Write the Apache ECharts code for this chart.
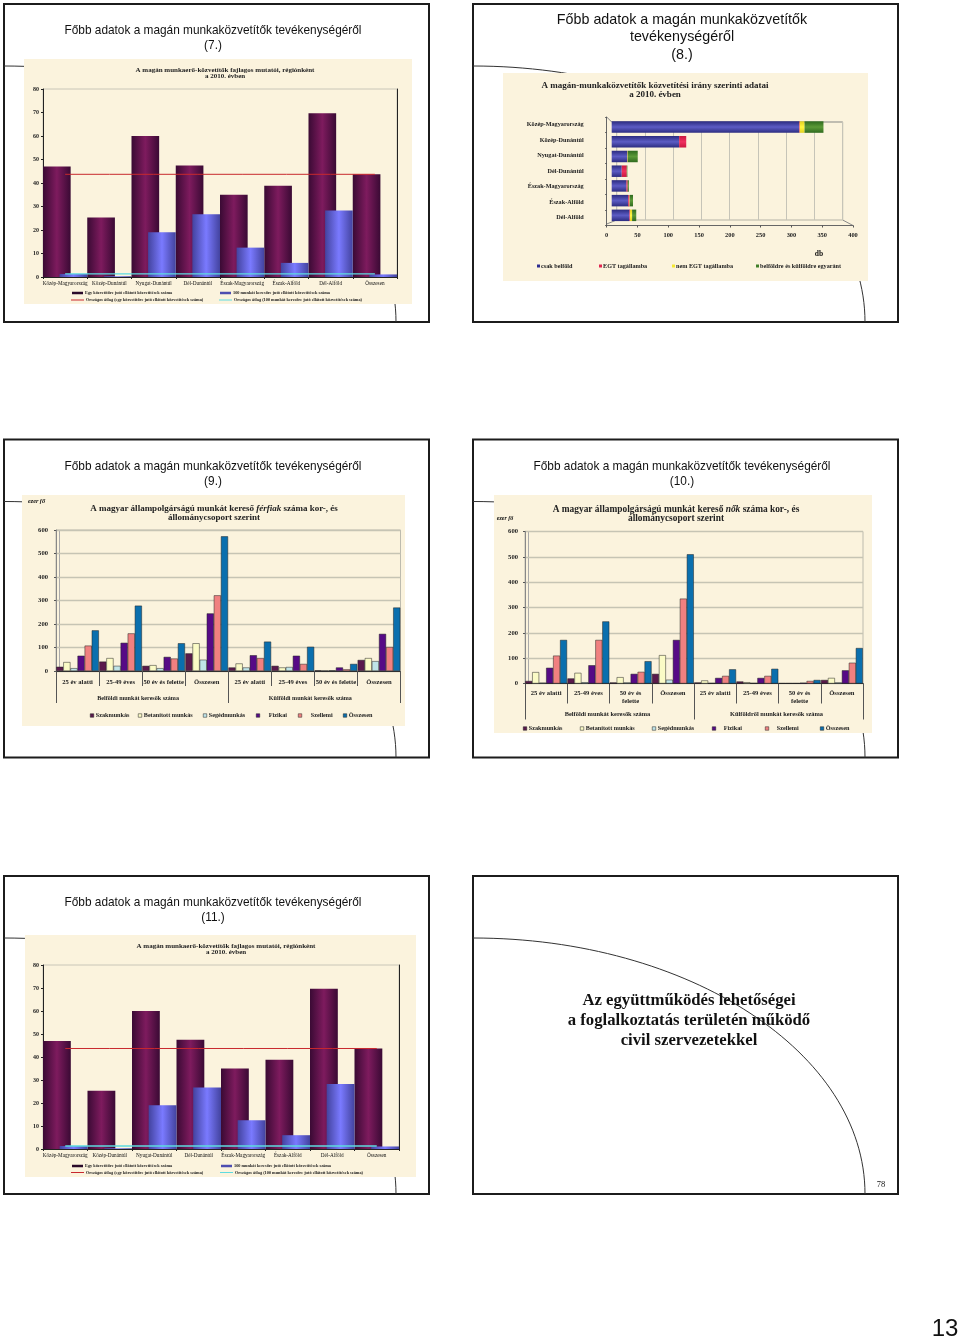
<!DOCTYPE html>
<html><head><meta charset="utf-8">
<style>html,body{margin:0;padding:0;background:#fff}#c{width:960px;height:1340px}</style>
<script src="https://cdn.jsdelivr.net/npm/echarts@6/dist/echarts.min.js"></script>
</head><body><div id="c"></div>
<script>
// ---------- DATA ----------
const regionCategories = ['Közép-Magyarország','Közép-Dunántúl','Nyugat-Dunántúl','Dél-Dunántúl','Észak-Magyarország','Észak-Alföld','Dél-Alföld','Összesen'];
const perAgent = [47, 25.3, 60, 47.5, 35, 38.8, 69.7, 43.7];
const per100 = [1.3, 0.3, 19, 26.7, 12.5, 6, 28.3, 1.1];
const avgAgent = [43.7, 43.7, 43.7, 43.7, 43.7, 43.7, 43.7, 43.7];
const avg100 = [1.3, 1.3, 1.3, 1.3, 1.3, 1.3, 1.3, 1.3];
const regionLegend = ['Egy közvetítőre jutó ellátott közvetítések száma','100 munkát keresőre jutó ellátott közvetítések száma','Országos átlag (egy közvetítőre jutó ellátott közvetítések száma)','Országos átlag (100 munkát keresőre jutó ellátott közvetítések száma)'];

const dirCategories = ['Közép-Magyarország','Közép-Dunántúl','Nyugat-Dunántúl','Dél-Dunántúl','Észak-Magyarország','Észak-Alföld','Dél-Alföld'];
const dirNames = ['csak belföld','EGT tagállamba','nem EGT tagállamba','belföldre és külföldre egyaránt'];
const dirDomestic = [317, 114, 26, 17, 25, 28, 30];
const dirEGT = [1, 12, 0.5, 8.5, 2, 2, 1];
const dirNonEGT = [8, 0, 0.5, 0, 0, 0.5, 3.5];
const dirBoth = [32, 0, 17, 1, 2, 5.5, 7];

const ageCats = ['25 év alatti','25-49 éves','50 év és felette','Összesen','25 év alatti','25-49 éves','50 év és felette','Összesen'];
const ageCatsF = ['25 év alatti','25-49 éves','50 év és\nfelette','Összesen','25 év alatti','25-49 éves','50 év és\nfelette','Összesen'];
const originCats = ['Belföldi munkát keresők száma','Külföldi munkát keresők száma'];
const originCatsF = ['Belföldi munkát keresők száma','Külföldről munkát keresők száma'];
const jobNames = ['Szakmunkás','Betanított munkás','Segédmunkás','Fizikai','Szellemi','Összesen'];
// men
const mSkilled = [18, 40, 22, 75, 15, 22, 3, 47];
const mTrained = [38, 55, 25, 118, 32, 15, 1, 55];
const mHelper  = [12, 22, 12, 48, 15, 17, 3, 42];
const mManual  = [65, 120, 60, 245, 67, 65, 15, 158];
const mOffice  = [108, 160, 53, 322, 55, 30, 7, 102];
const mTotal   = [173, 278, 118, 573, 125, 103, 30, 270];
// women
const fSkilled = [10, 20, 4, 38, 4, 8, 1, 14];
const fTrained = [45, 42, 25, 112, 12, 5, 1, 22];
const fHelper  = [3, 5, 4, 15, 2, 2, 1, 4];
const fManual  = [62, 72, 38, 172, 22, 22, 3, 52];
const fOffice  = [110, 172, 46, 335, 30, 30, 10, 82];
const fTotal   = [172, 245, 88, 510, 56, 58, 14, 140];

// ---------- STYLE ----------
const SERIF = '"Liberation Serif","Times New Roman",serif';
const SANS = '"Liberation Sans",Arial,sans-serif';
const TXT = '#222';
const PANEL = '#fbf3dd';
const jobColors = ['#5a1a4c','#fbfbc6','#bfe4e8','#560a86','#f08080','#0a6fae'];
const grad = (c0,c1,horizontal) => ({type:'linear',x:0,y:0,x2:horizontal?1:0,y2:horizontal?0:1,
  colorStops:[{offset:0,color:c0},{offset:.5,color:c1},{offset:1,color:c0}]});

const grids=[],xAxes=[],yAxes=[],series=[],legends=[],titles=[],gfx=[];

function text(x,y,t,font,opt){gfx.push({type:'text',z:opt&&opt.z||5,style:Object.assign({x,y,text:t,font,fill:'#111',textAlign:'center',textVerticalAlign:'middle'},opt||{})});}
function line(x1,y1,x2,y2,c,w){gfx.push({type:'line',z:-5,shape:{x1,y1,x2,y2},style:{stroke:c||'#666',lineWidth:w||1}});}
function frame(x,y){
  gfx.push({type:'rect',z:-10,shape:{x,y,width:425,height:318},style:{fill:'#fff',stroke:'#1c1c1c',lineWidth:2}});
  gfx.push({type:'bezierCurve',z:-9,shape:{x1:x,y1:y+62,cpx1:x+216,cpy1:y+62,cpx2:x+392,cpy2:y+177,x2:x+392,y2:y+318},style:{stroke:'#333',lineWidth:1,fill:'none'}});
}
function panel(x,y,w,h){gfx.push({type:'rect',z:-8,shape:{x,y,width:w,height:h},style:{fill:PANEL}});}
function slideTitle(cx,y0,step,lines,size){lines.forEach((l,i)=>text(cx,y0+i*step,l,size+'px '+SANS));}
function chartTitle(cx,y,t,size,lh,rich){
  titles.push({text:t,left:cx,top:y,textAlign:'center',padding:0,
    textStyle:{fontFamily:SERIF,fontSize:size,fontWeight:'bold',color:TXT,lineHeight:lh,rich:rich||{}}});
}
function legendItem(x,y,name,color,w,h,size,gap,border){
  legends.push({left:x,top:y,padding:0,orient:'horizontal',itemWidth:w,itemHeight:h,itemGap:0,selectedMode:false,
    textStyle:{fontFamily:SERIF,fontSize:size,fontWeight:'bold',color:TXT,padding:[0,0,0,gap==null?0:gap]},
    data:[{name,icon:'rect',itemStyle:{color,borderWidth:border?.5:0,borderColor:'#222'}}]});
}

// Region bars chart
function regionChart(g,tc,ty,lx1,lx2,ly1,ly2,cats){
  const gi=grids.length;
  grids.push({left:g.x,top:g.y,width:g.w,height:g.h,show:true,borderColor:'#c9c6b8',borderWidth:1,backgroundColor:'transparent'});
  const xi=xAxes.length, yi=yAxes.length;
  xAxes.push({type:'category',gridIndex:gi,data:cats,axisTick:{show:true,length:2,alignWithLabel:false,lineStyle:{color:'#222'}},
    axisLine:{lineStyle:{color:'#222',width:1}},axisLabel:{interval:0,fontFamily:SERIF,fontSize:5.2,color:'#111',margin:4}});
  yAxes.push({type:'value',gridIndex:gi,min:0,max:80,interval:10,splitLine:{show:false},
    axisLine:{show:true,lineStyle:{color:'#222',width:1}},axisTick:{show:true,length:2,lineStyle:{color:'#222'}},
    axisLabel:{fontFamily:SERIF,fontSize:6,fontWeight:'bold',color:TXT,margin:4}});
  yAxes.push({type:'value',gridIndex:gi,position:'right',min:0,max:80,interval:10,splitLine:{show:false},
    axisLine:{show:true,lineStyle:{color:'#222',width:1}},axisTick:{show:true,length:1,lineStyle:{color:'#222'}},axisLabel:{show:false}});
  series.push({type:'bar',name:regionLegend[0],xAxisIndex:xi,yAxisIndex:yi,data:perAgent,barCategoryGap:'0%',barGap:'-40%',
    itemStyle:{color:grad('#3a0a34','#7e1b5e',true)}});
  series.push({type:'bar',name:regionLegend[1],xAxisIndex:xi,yAxisIndex:yi,data:per100,
    itemStyle:{color:grad('#43439f','#7a7aff',true)}});
  series.push({type:'line',name:regionLegend[2],xAxisIndex:xi,yAxisIndex:yi,data:avgAgent,symbol:'none',silent:true,lineStyle:{color:'#c8282e',width:1}});
  series.push({type:'line',name:regionLegend[3],xAxisIndex:xi,yAxisIndex:yi,data:avg100,symbol:'none',silent:true,lineStyle:{color:'#5edbe0',width:1.3}});
  chartTitle(tc,ty,'A magán munkaerő-közvetítők fajlagos mutatói, régiónként\na 2010. évben',7,6.4);
  legendItem(lx1,ly1,regionLegend[0],'#2a0a2a',11,2.5,4.3,-3);
  legendItem(lx2,ly1,regionLegend[1],'#4d4db0',11,2.5,4.3,-3);
  legendItem(lx1-1,ly2,regionLegend[2],'#c8282e',13,1,4.3,-3);
  legendItem(lx2-1,ly2,regionLegend[3],'#5edbe0',13,1,4.3,-3);
}

// Age / job chart
function ageChart(g,cats,origins,vals,labelFont,lvl1Len,lvl2Margin,lvl2Len,lbMargin,yLabMargin,lvl2Font,lvl2Pad){
  const gi=grids.length;
  grids.push({left:g.x,top:g.y,width:g.w,height:g.h,show:true,borderColor:'#bdbbae',borderWidth:1,backgroundColor:'transparent'});
  const xi=xAxes.length, yi=yAxes.length;
  xAxes.push({type:'category',gridIndex:gi,data:cats,
    axisLine:{lineStyle:{color:'#333',width:1}},axisTick:{show:true,length:lvl1Len,lineStyle:{color:'#555'}},
    axisLabel:{interval:0,fontFamily:SERIF,fontSize:labelFont,fontWeight:'bold',color:TXT,margin:lbMargin,lineHeight:labelFont+1.5}});
  xAxes.push({type:'category',gridIndex:gi,position:'bottom',data:origins,
    axisLine:{show:false},axisTick:{show:true,length:lvl2Len,lineStyle:{color:'#555'}},
    axisLabel:{interval:0,fontFamily:SERIF,fontSize:lvl2Font,fontWeight:'bold',color:TXT,margin:lvl2Margin,padding:[0,lvl2Pad,0,0]}});
  yAxes.push({type:'value',gridIndex:gi,min:0,max:600,interval:100,
    splitLine:{show:true,lineStyle:{color:'#c6c4b4',width:1.3}},
    axisLine:{show:true,lineStyle:{color:'#888',width:1}},axisTick:{show:true,length:2,lineStyle:{color:'#555'}},
    axisLabel:{fontFamily:SERIF,fontSize:6.6,fontWeight:'bold',color:TXT,margin:yLabMargin}});
  vals.forEach((d,i)=>series.push({type:'bar',name:jobNames[i],xAxisIndex:xi,yAxisIndex:yi,data:d,barCategoryGap:'1%',barGap:'0%',
    itemStyle:{color:jobColors[i],borderColor:'#222',borderWidth:.5}}));
}

// ---------- SLIDES ----------
frame(4,4);frame(473,4);frame(4,439.5);frame(473,439.5);frame(4,876);frame(473,876);

// Slide 7
slideTitle(213,31,15,['Főbb adatok a magán munkaközvetítők tevékenységéről','(7.)'],11.85);
panel(24,59,388,245);
regionChart({x:43,y:89,w:354,h:188},225,67,72,220,291,298,regionCategories);

// Slide 8
slideTitle(682,20,17.5,['Főbb adatok a magán munkaközvetítők','tevékenységéről','(8.)'],14.3);
panel(503,73,365,208);
chartTitle(655,82,'A magán-munkaközvetítők közvetítési irány szerinti adatai\na 2010. évben',9,8.2);
(function(){
  // back wall
  let gi=grids.length;
  grids.push({left:616.7,top:122,width:226,height:98,show:true,borderColor:'#b5b3a6',borderWidth:1,backgroundColor:'transparent'});
  xAxes.push({type:'value',gridIndex:gi,min:0,max:400,interval:50,axisLabel:{show:false},axisLine:{show:false},axisTick:{show:false},
    splitLine:{show:true,lineStyle:{color:'#c6c4b8',width:1}}});
  yAxes.push({type:'value',gridIndex:gi,min:0,max:1,splitLine:{show:false},axisLabel:{show:false},axisLine:{show:false},axisTick:{show:false}});
  // front axes
  gi=grids.length;
  grids.push({left:606.7,top:117,width:246.3,height:108.5});
  xAxes.push({type:'value',gridIndex:gi,min:0,max:400,interval:50,splitLine:{show:false},axisLine:{show:true,lineStyle:{color:'#666'}},
    axisTick:{show:true,length:2,lineStyle:{color:'#555'}},
    axisLabel:{fontFamily:SERIF,fontSize:6.4,fontWeight:'bold',color:TXT,margin:7}});
  yAxes.push({type:'category',gridIndex:gi,inverse:true,data:dirCategories,axisLine:{show:true,lineStyle:{color:'#666'}},
    axisTick:{show:true,length:1.5,lineStyle:{color:'#555'}},
    axisLabel:{interval:0,fontFamily:SERIF,fontSize:6.2,fontWeight:'bold',color:TXT,margin:23}});
  // bars
  gi=grids.length;
  grids.push({left:611.7,top:119.7,width:236.6,height:103});
  const xi=xAxes.length, yi=yAxes.length;
  xAxes.push({type:'value',gridIndex:gi,min:0,max:400,show:false});
  yAxes.push({type:'category',gridIndex:gi,inverse:true,data:dirCategories,show:false});
  const cols=[grad('#2c2c80','#5c5cc4'),grad('#c81840','#f03060'),grad('#e0d020','#fff640'),grad('#2e6a1e','#5c9a38')];
  [dirDomestic,dirEGT,dirNonEGT,dirBoth].forEach((d,i)=>series.push({type:'bar',name:dirNames[i],stack:'dir',xAxisIndex:xi,yAxisIndex:yi,data:d,barWidth:11.5,itemStyle:{color:cols[i]}}));
  line(606.7,117,611.7,122,'#888');line(606.7,224,616.7,220,'#888');line(853,225.5,842.7,220,'#888');line(842.7,122,611.7,122,'#999');
  text(819,254,'db','bold 7.5px '+SERIF);
  const lx=[537,599,672,756], lc=['#2c2c90','#e0254f','#f5e832','#3f7f28'];
  dirNames.forEach((n,i)=>legendItem(lx[i],263,n,lc[i],3,3,6.2,-4));
})();

// Slide 9
slideTitle(213,467,15,['Főbb adatok a magán munkaközvetítők tevékenységéről','(9.)'],11.85);
panel(22,495,383,231);
text(36.5,501.5,'ezer fő','italic bold 6.2px '+SERIF);
chartTitle(214,503.5,'{a|A magyar állampolgárságú munkát kereső }{i|férfiak}{a| száma kor-, és}\n{a|állománycsoport szerint}',9,9.7,
  {a:{fontFamily:SERIF,fontSize:9,fontWeight:'bold',color:TXT,lineHeight:9.7},i:{fontFamily:SERIF,fontSize:9,fontWeight:'bold',fontStyle:'italic',color:TXT,lineHeight:9.7}});
ageChart({x:56,y:530,w:344.5,h:141},ageCats,originCats,[mSkilled,mTrained,mHelper,mManual,mOffice,mTotal],6.6,15,24,32,7,8,6.1,8);
line(59.5,530,59.5,671,'#aaa',1);
[[90,'#5a1a4c',-3],[138,'#fbfbc6',-3],[203,'#bfe4e8',-3],[256,'#560a86',4],[298,'#f08080',4],[343,'#0a6fae',-3]].forEach((l,i)=>legendItem(l[0],712.5,jobNames[i],l[1],3.5,3.5,6.2,l[2],true));

// Slide 10
slideTitle(682,467,15,['Főbb adatok a magán munkaközvetítők tevékenységéről','(10.)'],11.85);
panel(494,495,378,238);
text(505,518,'ezer fő','italic bold 6px '+SERIF);
chartTitle(676,504.5,'{a|A magyar állampolgárságú munkát kereső }{i|nők}{a| száma kor-, és}\n{a|állománycsoport szerint}',9.4,9.2,
  {a:{fontFamily:SERIF,fontSize:9.4,fontWeight:'bold',color:TXT,lineHeight:9.2},i:{fontFamily:SERIF,fontSize:9.4,fontWeight:'bold',fontStyle:'italic',color:TXT,lineHeight:9.2}});
ageChart({x:525,y:531.5,w:338,h:152},ageCatsF,originCatsF,[fSkilled,fTrained,fHelper,fManual,fOffice,fTotal],6.6,20,28,36,6,7,6.4,4);
line(528.5,531.5,528.5,683,'#aaa',1);
[[523,'#5a1a4c',-3],[580,'#fbfbc6',-3],[652,'#bfe4e8',-3],[712,'#560a86',3],[765,'#f08080',3],[820,'#0a6fae',-3]].forEach((l,i)=>legendItem(l[0],725.5,jobNames[i],l[1],3.5,3.5,6.2,l[2],true));

// Slide 11
slideTitle(213,903,15,['Főbb adatok a magán munkaközvetítők tevékenységéről','(11.)'],11.85);
panel(25,935,391,242);
regionChart({x:43,y:965,w:356,h:184},226,943,72,221,1164,1170.5,regionCategories);

// Slide 12
['Az együttműködés lehetőségei','a foglalkoztatás területén működő','civil szervezetekkel'].forEach((l,i)=>text(689,1001+i*20,l,'bold 16.7px '+SERIF));
text(881,1185,'78','8.5px '+SERIF);
text(945,1329.5,'13','24px '+SANS);

const chart=echarts.init(document.getElementById('c'),null,{renderer:'canvas',width:960,height:1340});
chart.setOption({animation:false,backgroundColor:'#fff',tooltip:{show:false},
  title:titles,legend:legends,grid:grids,xAxis:xAxes,yAxis:yAxes,series,graphic:{elements:gfx}});
</script></body></html>
